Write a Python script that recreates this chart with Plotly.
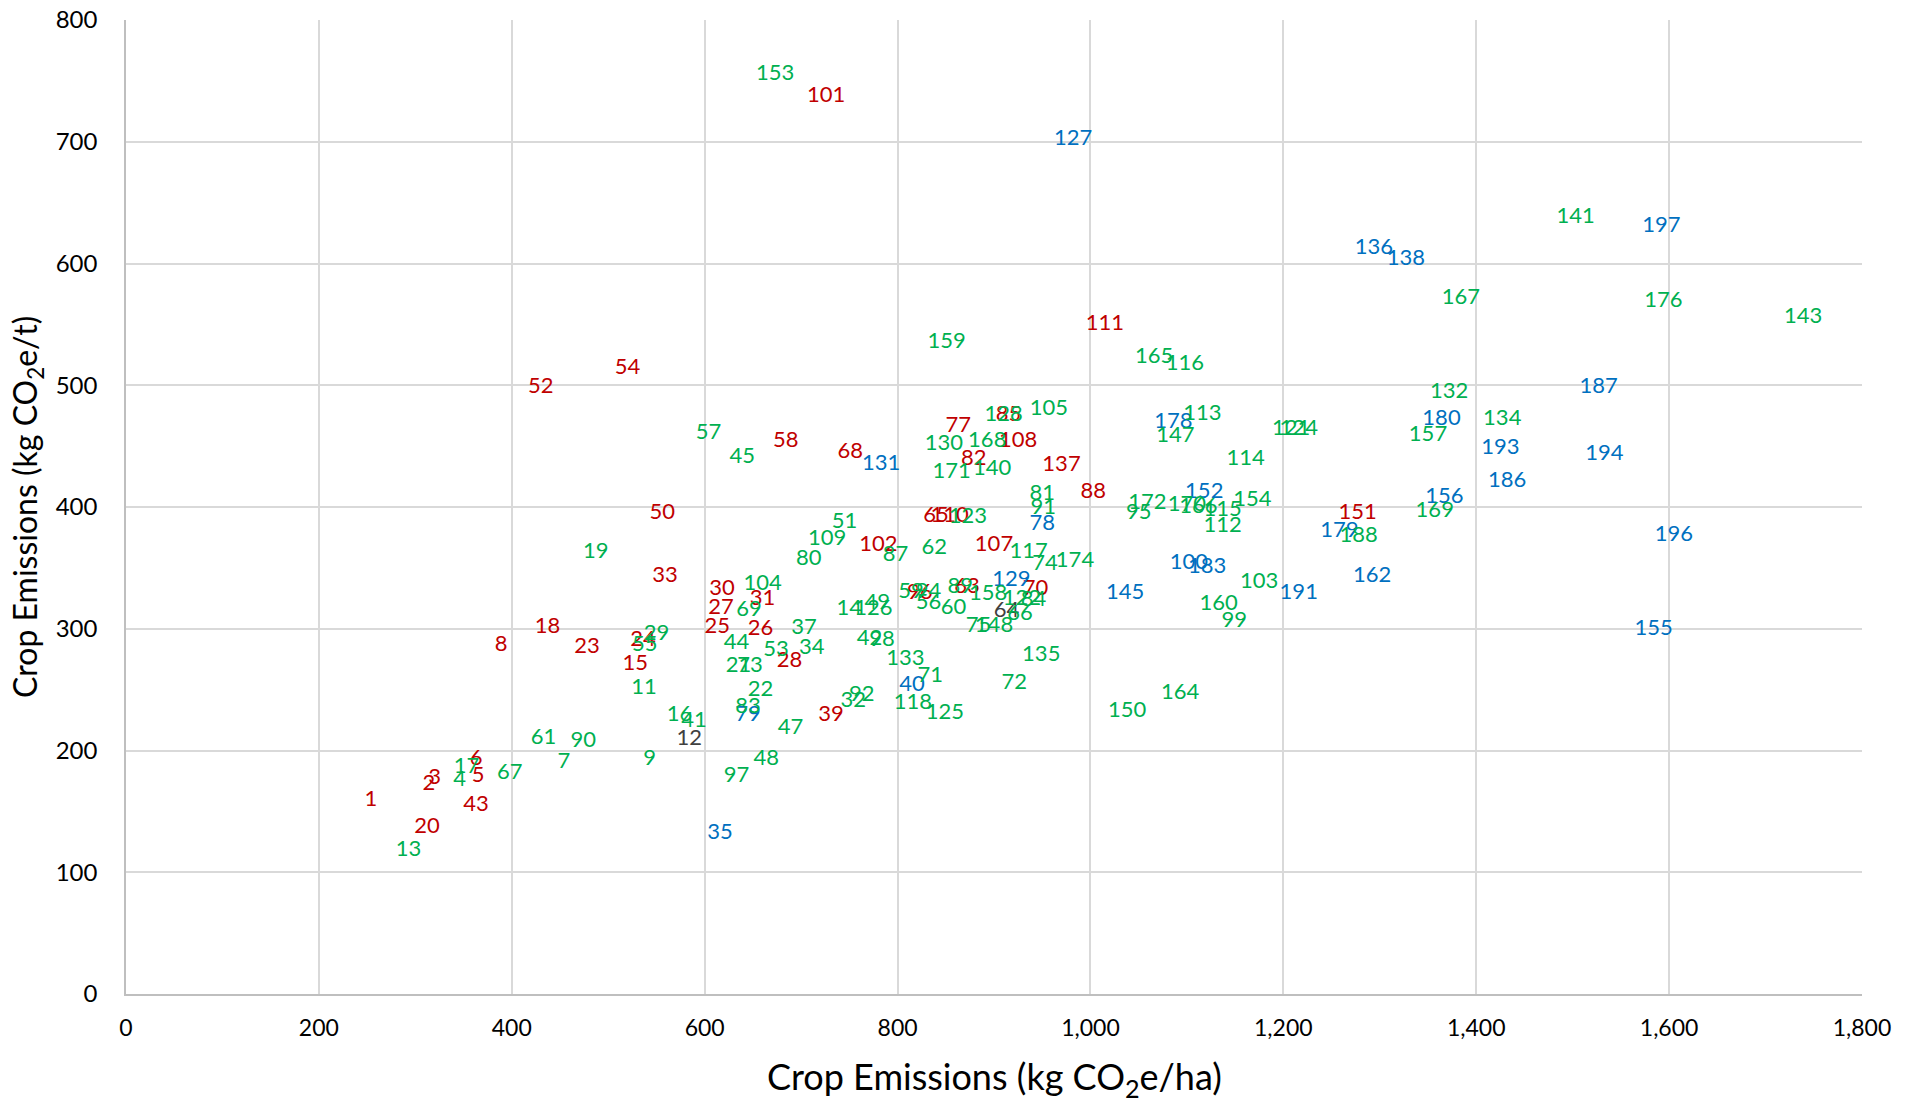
import plotly.graph_objects as go

# ---- data (label, x = kg CO2e/ha, y = kg CO2e/t) ----
red_labels = ["1","2","3","5","6","43","20","8","18","23","15","24","33","50","52","54","58","68",
              "30","27","31","25","26","28","39","101","102","96","63","70","107","77","85","108",
              "82","137","88","111","65","110","151"]
red_x = [254,314,320,365,363,363,312,389,437,478,528,536,559,556,430,520,684,751,
         618,617,660,613,658,688,731,726,780,823,872,943,900,863,915,925,
         879,970,1003,1015,840,854,1277]
red_y = [159,172,177,179,193,155,137,286,301,285,271,290,343,395,498,514,454,445,
         332,317,324,301,299,273,229,737,368,329,334,332,368,466,475,454,
         439,434,412,550,392,392,395]

gray_labels = ["12","64"]
gray_x = [584,913]
gray_y = [209,314]

blue_labels = ["35","79","40","78","129","131","127","145","100","183","178","152","191","179",
               "162","136","138","180","187","193","194","186","156","197","196","155"]
blue_x = [616,645,815,950,918,783,982,1036,1102,1121,1086,1118,1216,1258,
          1292,1294,1327,1364,1527,1425,1533,1432,1367,1592,1605,1584]
blue_y = [132,229,253,386,340,435,702,329,354,350,469,412,329,380,
          343,612,603,472,498,448,443,421,408,630,377,299]

green_labels = ["13","4","17","67","61","7","90","9","11","16","41","97","48","47","83","22",
                "21","73","44","53","34","37","69","104","55","29","19","57","45","80","109",
                "51","87","62","14","126","49","42","98","32","92","133","71","118","125","72",
                "135","150","164","59","94","56","60","89","158","122","84","66","75","148",
                "117","74","174","81","91","123","130","171","140","168","128","105","159",
                "153","165","116","113","147","172","95","170","166","115","112","154","114",
                "121","124","103","160","99","188","169","157","132","134","167","141","176","143"]
green_x = [293,346,353,398,433,454,474,543,537,574,589,633,664,689,645,658,
           635,647,633,674,711,703,646,660,538,550,487,604,639,708,727,
           745,798,838,750,775,779,771,784,754,763,808,834,816,849,921,
           949,1038,1093,814,832,832,858,865,894,929,941,927,884,900,
           936,953,984,950,951,873,848,856,898,893,910,957,851,
           673,1066,1098,1116,1088,1059,1050,1100,1112,1137,1137,1168,1161,
           1208,1216,1175,1133,1149,1278,1357,1350,1372,1427,1384,1503,1594,1739]
green_y = [118,175,186,181,210,190,207,193,251,229,224,179,193,218,235,249,
           269,269,288,282,284,300,315,336,286,295,363,460,441,357,373,
           387,360,366,316,316,321,291,290,240,245,275,261,239,230,255,
           278,232,247,330,330,321,317,334,328,324,323,312,302,302,
           363,353,355,410,399,391,451,428,431,454,475,480,535,
           755,523,517,476,458,403,395,401,400,397,384,405,439,
           464,464,338,320,306,376,396,459,494,472,571,638,569,556]

x_ticks = [0,200,400,600,800,1000,1200,1400,1600,1800]
y_ticks = [0,100,200,300,400,500,600,700,800]

FONT = "Lato"
LABEL_SIZE = 22

groups = [
    (red_labels, red_x, red_y, "#C00000"),
    (gray_labels, gray_x, gray_y, "#404040"),
    (blue_labels, blue_x, blue_y, "#0070C0"),
    (green_labels, green_x, green_y, "#00B050"),
]

fig = go.Figure()
for labels, xs, ys, col in groups:
    fig.add_trace(go.Scatter(
        x=xs, y=ys, text=labels, mode="text",
        textposition="middle center",
        textfont=dict(family=FONT, size=LABEL_SIZE, color=col),
        hoverinfo="skip", showlegend=False,
    ))

fig.update_layout(
    width=1919, height=1102, autosize=False,
    margin=dict(l=126, r=57, t=20, b=108),
    paper_bgcolor="white", plot_bgcolor="white",
    font=dict(family=FONT, color="#000000"),
)
fig.update_xaxes(
    range=[0, 1800], tickvals=x_ticks, tickformat=",", automargin=False,
    showgrid=True, gridcolor="#D9D9D9", gridwidth=1.5,
    showline=True, linecolor="#BFBFBF", linewidth=1.5,
    zeroline=False, ticks="", tickfont=dict(family=FONT, size=23, color="#000000"),
    ticklabelstandoff=13,
)
fig.update_yaxes(
    range=[0, 800], tickvals=y_ticks, automargin=False,
    showgrid=True, gridcolor="#D9D9D9", gridwidth=1.5,
    showline=True, linecolor="#BFBFBF", linewidth=1.5,
    zeroline=False, ticks="", tickfont=dict(family=FONT, size=24, color="#000000"),
    ticklabelstandoff=22,
)

fig.add_annotation(
    text="Crop Emissions (kg CO<sub>2</sub>e/ha)", xref="paper", yref="paper",
    x=0.5, y=0, xanchor="center", yanchor="middle", yshift=-84, showarrow=False,
    font=dict(family=FONT, size=36, color="#000000"),
)
fig.add_annotation(
    text="Crop Emissions (kg CO<sub>2</sub>e/t)", xref="paper", yref="paper",
    x=0, y=0.5, xanchor="center", yanchor="middle", xshift=-99, textangle=-90,
    showarrow=False, font=dict(family=FONT, size=32, color="#000000"),
)

fig.write_html("out.html")
